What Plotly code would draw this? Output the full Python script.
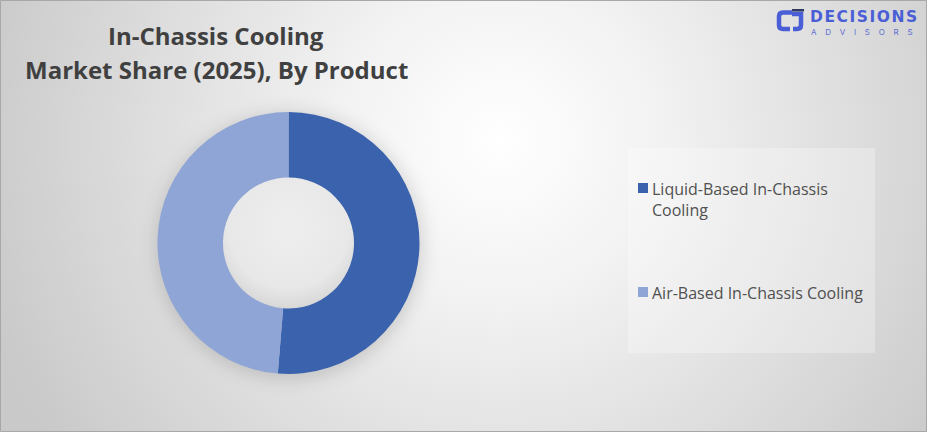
import base64
import plotly.graph_objects as go

# ---- data ----
categories = ["Liquid-Based In-Chassis Cooling", "Air-Based In-Chassis Cooling"]
shares = [51.3, 48.7]
legend_labels = ["Liquid-Based In-Chassis<br>Cooling", "Air-Based In-Chassis Cooling"]
colors = ["#3B63AD", "#8FA5D6"]
title_lines = ["In-Chassis Cooling", "Market Share (2025), By Product"]

W, H = 927, 432
cx, cy, R = 288.5, 243, 131

# ---- background (radial gradient + soft shadow under the donut + hole shading) ----
svg = f'''<svg xmlns="http://www.w3.org/2000/svg" width="{W}" height="{H}" viewBox="0 0 {W} {H}">
<defs>
<radialGradient id="g" gradientUnits="userSpaceOnUse" cx="500" cy="140" r="540">
<stop offset="0" stop-color="#ffffff"/>
<stop offset="0.3" stop-color="#f2f2f2"/>
<stop offset="1" stop-color="#c9c9c9"/>
</radialGradient>
<radialGradient id="h" gradientUnits="userSpaceOnUse" cx="{cx}" cy="{cy - 15}" r="80">
<stop offset="0" stop-color="#eeeeee"/>
<stop offset="0.75" stop-color="#e8e8e8"/>
<stop offset="1" stop-color="#d8d8d8"/>
</radialGradient>
<filter id="b" x="-50%" y="-50%" width="200%" height="200%"><feGaussianBlur stdDeviation="9"/></filter>
</defs>
<rect width="{W}" height="{H}" fill="url(#g)"/>
<circle cx="{cx + 1}" cy="{cy + 3}" r="{R + 2}" fill="#000" fill-opacity="0.15" filter="url(#b)"/>
<circle cx="{cx}" cy="{cy}" r="{R * 0.5 + 1}" fill="url(#h)"/>
</svg>'''
bg_uri = "data:image/svg+xml;base64," + base64.b64encode(svg.encode()).decode()

fig = go.Figure()

fig.add_trace(go.Pie(
    labels=categories,
    values=shares,
    hole=0.5,
    sort=False,
    direction="clockwise",
    rotation=0,
    marker=dict(colors=colors, line=dict(width=0)),
    textinfo="none",
    hoverinfo="label+percent",
    showlegend=False,
    domain=dict(x=[(cx - R) / W, (cx + R) / W], y=[(H - cy - R) / H, (H - cy + R) / H]),
))

shapes = []
annotations = []

# legend box
shapes.append(dict(type="rect", xref="x", yref="y", x0=628, x1=875, y0=148, y1=353,
                   fillcolor="rgba(255,255,255,0.28)", line=dict(width=0), layer="below"))
# legend entries
legend_y = [188, 292]
for lab, col, y in zip(legend_labels, colors, legend_y):
    shapes.append(dict(type="rect", xref="x", yref="y", x0=638, x1=648, y0=y - 5, y1=y + 5,
                       fillcolor=col, line=dict(width=0)))
    annotations.append(dict(x=650, y=y - 12, xref="x", yref="y", text=lab, showarrow=False,
                            xanchor="left", yanchor="top", align="left",
                            font=dict(family="Open Sans", size=16, color="#505050")))

# title
for line, y in zip(title_lines, [35, 69]):
    annotations.append(dict(x=216, y=y, xref="x", yref="y", text=f"<b>{line}</b>", showarrow=False,
                            xanchor="center", yanchor="middle",
                            font=dict(family="Open Sans", size=24, color="#404040")))

# logo
logo_blue = "#4A5ED6"
shapes.append(dict(type="path", xref="x", yref="y",
                   path="M 792 12.5 L 783 12.5 Q 779 12.5 779 16.5 L 779 25 Q 779 29 783 29 L 790 29",
                   line=dict(color=logo_blue, width=4.5)))
shapes.append(dict(type="path", xref="x", yref="y",
                   path="M 792 14 L 801 14 L 801 25 Q 801 29 797 29 L 793 29",
                   line=dict(color=logo_blue, width=4.5)))
shapes.append(dict(type="rect", xref="x", yref="y", x0=792, x1=804, y0=9, y1=11.5,
                   fillcolor="#2F3B63", line=dict(width=0)))
annotations.append(dict(x=809, y=17, xref="x", yref="y", text="<b>" + "\u200a".join("DECISIONS") + "</b>",
                        showarrow=False, xanchor="left", yanchor="middle", borderpad=0,
                        font=dict(family="DejaVu Sans", size=15.5, color=logo_blue)))
annotations.append(dict(x=810, y=32, xref="x", yref="y",
                        text="\u2003\u200a".join("ADVISORS"), showarrow=False,
                        xanchor="left", yanchor="middle", borderpad=0,
                        font=dict(family="Inter", size=8, color="#5C6BD0")))

# outer frame
shapes.append(dict(type="rect", xref="x", yref="y", x0=0.5, x1=W - 0.5, y0=0.5, y1=H - 0.5,
                   line=dict(color="#A8A8A8", width=1), fillcolor="rgba(0,0,0,0)"))

fig.update_layout(
    width=W, height=H,
    margin=dict(l=0, r=0, t=0, b=0),
    paper_bgcolor="#e6e6e6",
    plot_bgcolor="rgba(0,0,0,0)",
    xaxis=dict(range=[0, W], visible=False, fixedrange=True),
    yaxis=dict(range=[H, 0], visible=False, fixedrange=True),
    images=[dict(source=bg_uri, xref="paper", yref="paper", x=0, y=1, sizex=1, sizey=1,
                 xanchor="left", yanchor="top", sizing="stretch", layer="below")],
    shapes=shapes,
    annotations=annotations,
)

fig.write_html("out.html", config={"displayModeBar": False},
               post_script="document.body.style.margin='0';")
